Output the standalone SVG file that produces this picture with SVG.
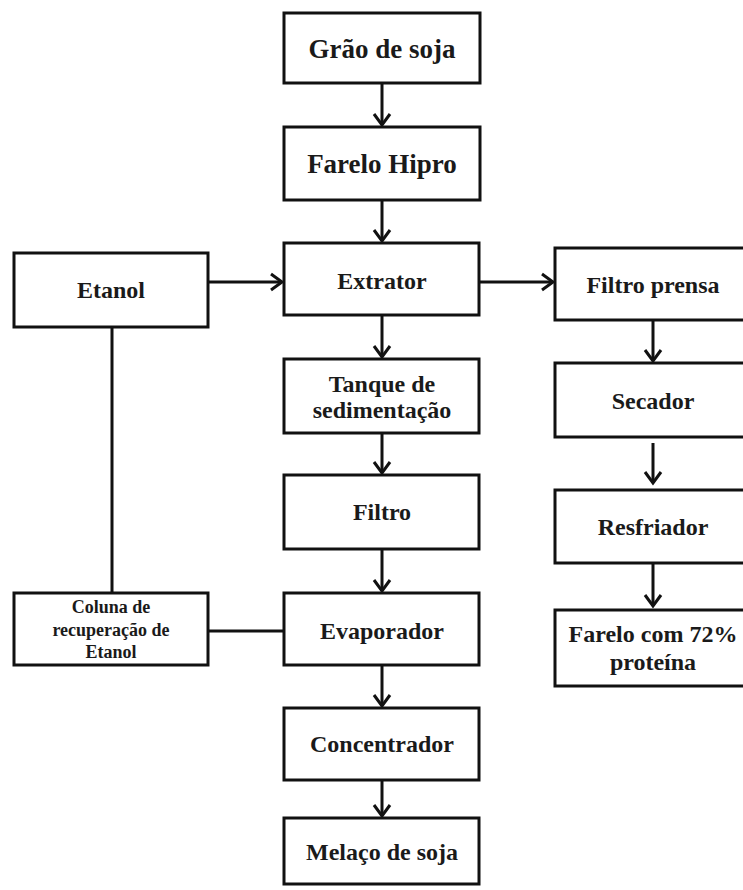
<svg xmlns="http://www.w3.org/2000/svg" width="743" height="890" viewBox="0 0 743 890">
<style>
.box{fill:#fff;stroke:#111;stroke-width:3}
.t{font-family:"Liberation Serif","Times New Roman",serif;font-weight:bold;font-size:24px;fill:#1a1a1a;text-anchor:middle}
.l{font-size:27px}
.s{font-size:18px}
.c{fill:none;stroke:#111;stroke-width:3}
</style>
<defs>
<marker id="ah" markerUnits="userSpaceOnUse" markerWidth="20" markerHeight="20" refX="0" refY="0" viewBox="-14 -10 16 20" orient="auto">
<path d="M-11,-8 L0,0 L-11,8" fill="none" stroke="#111" stroke-width="3"/>
</marker>
</defs>
<rect width="743" height="890" fill="#fff"/>
<g id="connectors">
<line class="c" x1="382" y1="83" x2="382" y2="125" marker-end="url(#ah)"/>
<line class="c" x1="382" y1="200" x2="382" y2="241" marker-end="url(#ah)"/>
<line class="c" x1="208" y1="282" x2="282" y2="282" marker-end="url(#ah)"/>
<line class="c" x1="479" y1="282" x2="553" y2="282" marker-end="url(#ah)"/>
<line class="c" x1="382" y1="315" x2="382" y2="357" marker-end="url(#ah)"/>
<line class="c" x1="382" y1="433" x2="382" y2="473" marker-end="url(#ah)"/>
<line class="c" x1="382" y1="549" x2="382" y2="591" marker-end="url(#ah)"/>
<line class="c" x1="382" y1="665" x2="382" y2="706" marker-end="url(#ah)"/>
<line class="c" x1="382" y1="780" x2="382" y2="816" marker-end="url(#ah)"/>
<line class="c" x1="653" y1="320" x2="653" y2="361" marker-end="url(#ah)"/>
<line class="c" x1="653" y1="443" x2="653" y2="483" marker-end="url(#ah)"/>
<line class="c" x1="653" y1="563" x2="653" y2="606" marker-end="url(#ah)"/>
<line class="c" x1="112" y1="327" x2="112" y2="593"/>
<line class="c" x1="208" y1="631" x2="284" y2="631"/>
</g>
<g id="grao"><rect class="box" x="284" y="13" width="196" height="70"/><text class="t l" x="382" y="58">Grão de soja</text></g>
<g id="farelo-hipro"><rect class="box" x="284" y="127" width="196" height="73"/><text class="t l" x="382" y="173">Farelo Hipro</text></g>
<g id="etanol"><rect class="box" x="14" y="253" width="194" height="74"/><text class="t" x="111" y="298">Etanol</text></g>
<g id="extrator"><rect class="box" x="284" y="243" width="195" height="72"/><text class="t" x="382" y="289">Extrator</text></g>
<g id="filtro-prensa"><rect class="box" x="555" y="248" width="196" height="72"/><text class="t" x="653" y="293">Filtro prensa</text></g>
<g id="tanque"><rect class="box" x="284" y="359" width="195" height="74"/><text class="t" x="382" y="392">Tanque de</text><text class="t" x="382" y="418">sedimentação</text></g>
<g id="secador"><rect class="box" x="555" y="363" width="196" height="74"/><text class="t" x="653" y="409">Secador</text></g>
<g id="filtro"><rect class="box" x="284" y="475" width="195" height="74"/><text class="t" x="382" y="520">Filtro</text></g>
<g id="resfriador"><rect class="box" x="555" y="490" width="196" height="73"/><text class="t" x="653" y="535">Resfriador</text></g>
<g id="coluna"><rect class="box" x="14" y="593" width="194" height="72"/><text class="t s" x="111" y="613">Coluna de</text><text class="t s" x="111" y="636">recuperação de</text><text class="t s" x="111" y="658">Etanol</text></g>
<g id="evaporador"><rect class="box" x="284" y="593" width="195" height="72"/><text class="t" x="382" y="639">Evaporador</text></g>
<g id="farelo72"><rect class="box" x="555" y="610" width="196" height="76"/><text class="t" x="653" y="642">Farelo com 72%</text><text class="t" x="653" y="670">proteína</text></g>
<g id="concentrador"><rect class="box" x="284" y="708" width="195" height="72"/><text class="t" x="382" y="752">Concentrador</text></g>
<g id="melaco"><rect class="box" x="284" y="818" width="195" height="66"/><text class="t" x="382" y="860">Melaço de soja</text></g>
</svg>
